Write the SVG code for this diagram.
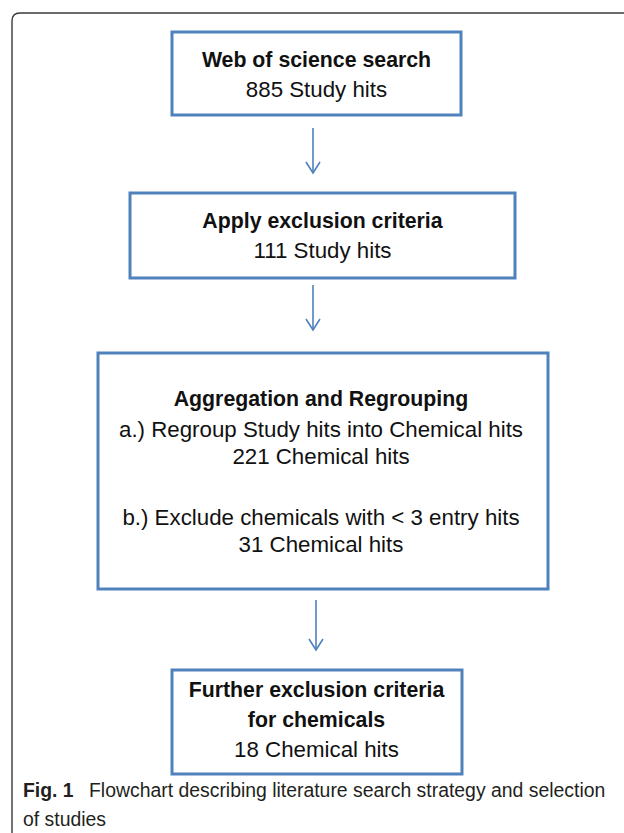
<svg xmlns="http://www.w3.org/2000/svg" width="624" height="833" viewBox="0 0 624 833">
<defs>
<style>
.box{fill:#ffffff;stroke:#4F81BD;stroke-width:3}
.conn{fill:none;stroke:#4F81BD;stroke-width:1.6}
.b{font-family:"Liberation Sans",Arial,sans-serif;font-weight:bold;font-size:21.3px;fill:#111;text-anchor:middle}
.r{font-family:"Liberation Sans",Arial,sans-serif;font-size:22.3px;fill:#111;text-anchor:middle}
.cap{font-family:"Liberation Sans",Arial,sans-serif;font-size:19.4px;fill:#231F20}
</style>
<marker id="ah" viewBox="0 0 14 16" refX="12" refY="8" markerWidth="14" markerHeight="16" markerUnits="userSpaceOnUse" orient="auto">
<path d="M1 1 L12 8 L1 15" fill="none" stroke="#4F81BD" stroke-width="1.6"/>
</marker>
</defs>
<rect x="0" y="0" width="624" height="833" fill="#ffffff"/>
<path d="M12 833 V21 Q12 13 20 13 H624" fill="none" stroke="#3a3a3a" stroke-width="1.4"/>

<g id="connectors">
<path class="conn" d="M313 128 V173" marker-end="url(#ah)"/>
<path class="conn" d="M313 285 V330" marker-end="url(#ah)"/>
<path class="conn" d="M316 600 V650" marker-end="url(#ah)"/>
</g>

<g id="n1">
<rect class="box" x="172" y="32" width="289" height="83"/>
<text class="b" x="316.5" y="67">Web of science search</text>
<text class="r" x="316.5" y="97">885 Study hits</text>
</g>

<g id="n2">
<rect class="box" x="130" y="193" width="385" height="85"/>
<text class="b" x="322.5" y="228">Apply exclusion criteria</text>
<text class="r" x="322.5" y="258">111 Study hits</text>
</g>

<g id="n3">
<rect class="box" x="98" y="353" width="450" height="236"/>
<text class="b" x="321" y="406">Aggregation and Regrouping</text>
<text class="r" x="321" y="437">a.) Regroup Study hits into Chemical hits</text>
<text class="r" x="321" y="464">221 Chemical hits</text>
<text class="r" x="321" y="525">b.) Exclude chemicals with &lt; 3 entry hits</text>
<text class="r" x="321" y="552">31 Chemical hits</text>
</g>

<g id="n4">
<rect class="box" x="172" y="670" width="290" height="104"/>
<text class="b" x="316.5" y="697">Further exclusion criteria</text>
<text class="b" x="316.5" y="727">for chemicals</text>
<text class="r" x="316.5" y="757">18 Chemical hits</text>
</g>

<g id="caption">
<text class="cap" x="23" y="797"><tspan font-weight="bold">Fig. 1</tspan><tspan x="89">Flowchart describing literature search strategy and selection</tspan></text>
<text class="cap" x="23" y="826">of studies</text>
</g>
</svg>
